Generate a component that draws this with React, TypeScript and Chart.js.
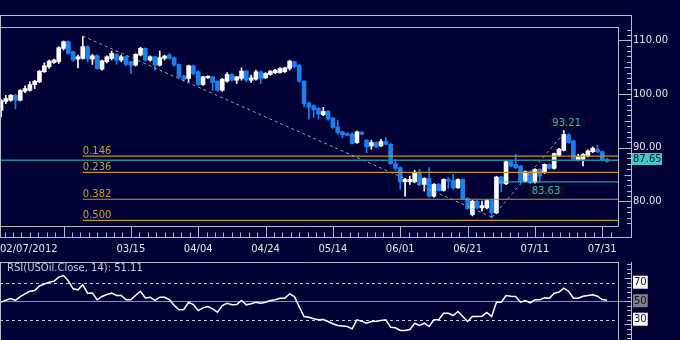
import React, { useEffect, useRef } from "react";
import { Chart, registerables } from "chart.js";

Chart.register(...registerables);

const FONT = '"DejaVu Sans", Verdana, sans-serif';
const BG = "#000034";
const FRAME = "#b8b8c8";
const UP = "#ffffff";
const DOWN = "#1a80f0";

// ---- Daily USOil candles, 02/07/2012 .. 08/01/2012 (index = trading day) ----
const opens = [
  96.96, 98.64, 98.83, 99.77, 98.83, 100.52, 100.7, 101.76, 102.26, 104.14,
  105.07, 105.88, 106.01, 108.5, 109.75, 107.88, 106.51, 106.63, 108.82, 106.51,
  107.13, 104.63, 106.01, 106.63, 107.38, 106.32, 106.94, 106.01, 105.38, 107.26,
  108.5, 106.32, 106.94, 105.38, 106.63, 107.26, 106.76, 105.51, 103.32, 102.89,
  105.26, 104.14, 101.76, 103.01, 103.2, 102.39, 100.7, 102.39, 103.64, 102.57,
  102.89, 104.26, 102.57, 102.76, 104.14, 103.01, 103.64, 103.95, 104.01, 104.14,
  104.76, 106.01, 105.38, 102.39, 98.33, 97.83, 97.33, 96.14, 96.76, 95.52,
  93.89, 92.96, 92.65, 92.52, 90.96, 92.83, 91.4, 90.33, 90.96, 90.33,
  91.15, 90.65, 87.03, 86.28, 83.66, 83.66, 83.66, 85.34, 83.16, 84.28,
  80.97, 83.16, 82.03, 84.09, 83.9, 82.53, 84.09, 80.54, 77.54, 80.04,
  78.79, 78.79, 80.16, 77.85, 84.53, 83.28, 87.4, 86.9, 86.59, 83.78,
  85.53, 83.59, 85.97, 85.34, 86.9, 86.15, 88.59, 89.52, 92.4, 91.27,
  87.65, 87.84, 88.46, 89.27, 89.71, 89.27, 87.84,
];
const highs = [
  99.0, 99.77, 99.9, 99.9, 100.8, 101.51, 102.26, 102.57, 104.4, 105.82,
  106.32, 106.5, 108.82, 109.88, 109.9, 108.0, 107.26, 110.69, 109.0, 107.38,
  107.3, 106.32, 107.1, 108.0, 107.5, 107.26, 107.1, 106.1, 107.5, 108.7,
  108.6, 107.1, 107.0, 108.0, 107.26, 107.57, 106.9, 105.6, 103.51, 105.4,
  105.4, 104.3, 103.3, 103.4, 103.3, 102.5, 102.9, 104.01, 103.8, 103.3,
  104.88, 104.4, 103.51, 104.45, 104.3, 104.0, 104.4, 104.6, 104.9, 105.0,
  106.32, 106.1, 105.5, 102.5, 98.5, 98.0, 97.5, 97.51, 96.9, 95.6,
  95.14, 93.1, 92.8, 92.83, 93.1, 93.0, 91.5, 91.4, 91.1, 91.58,
  91.9, 90.8, 87.84, 86.4, 84.28, 84.72, 85.78, 85.97, 84.4, 86.28,
  83.3, 83.3, 84.2, 84.4, 85.03, 84.2, 84.2, 80.7, 80.2, 80.2,
  80.04, 80.3, 80.3, 84.7, 84.7, 87.6, 87.65, 88.78, 86.7, 85.7,
  85.7, 86.1, 86.1, 87.0, 87.0, 89.0, 89.9, 93.21, 92.6, 91.4,
  88.78, 88.9, 89.6, 90.15, 90.46, 89.4, 88.0,
];
const lows = [
  95.7, 98.2, 98.64, 97.27, 98.7, 100.27, 100.52, 101.01, 102.1, 104.01,
  104.76, 105.7, 105.7, 108.19, 107.4, 106.1, 104.88, 106.5, 106.01, 105.51,
  104.6, 104.45, 105.8, 106.32, 105.51, 106.01, 105.3, 103.82, 105.2, 107.1,
  106.1, 106.1, 104.45, 105.2, 106.32, 106.51, 105.2, 103.0, 102.39, 102.26,
  103.6, 101.6, 101.6, 102.9, 100.7, 100.5, 100.5, 102.2, 102.4, 101.95,
  102.57, 102.26, 102.14, 102.57, 101.95, 102.9, 103.5, 103.8, 103.9, 104.0,
  104.45, 104.9, 102.2, 97.58, 95.33, 95.64, 95.33, 95.95, 95.1, 93.6,
  92.52, 91.9, 92.2, 90.65, 90.8, 92.4, 89.09, 89.71, 90.0, 90.2,
  90.52, 86.9, 85.78, 82.22, 80.97, 83.16, 83.47, 83.0, 81.91, 80.8,
  80.78, 81.9, 81.9, 82.41, 82.22, 82.4, 80.4, 78.5, 77.3, 78.6,
  78.16, 78.6, 76.92, 77.7, 81.78, 83.1, 86.4, 86.1, 83.47, 83.6,
  83.3, 83.4, 83.78, 85.2, 86.0, 86.0, 88.4, 89.4, 90.8, 87.7,
  87.53, 86.59, 88.3, 89.09, 89.09, 87.5, 87.3,
];
const closes = [
  98.83, 99.14, 99.77, 98.83, 100.7, 101.01, 101.76, 102.39, 104.26, 105.26,
  106.13, 106.32, 108.63, 109.75, 107.57, 106.32, 106.94, 108.82, 106.51, 107.13,
  104.76, 106.2, 106.94, 107.57, 106.32, 106.94, 105.51, 105.38, 107.38, 108.5,
  106.32, 106.94, 105.38, 106.76, 107.07, 106.63, 105.38, 103.2, 102.76, 105.26,
  103.82, 101.76, 103.2, 103.32, 102.14, 100.7, 102.76, 103.64, 102.57, 103.2,
  104.26, 102.57, 103.01, 104.14, 102.89, 103.82, 104.26, 104.45, 104.76, 104.88,
  106.13, 105.07, 102.39, 98.21, 97.51, 97.08, 96.27, 96.76, 95.33, 93.77,
  92.83, 92.4, 92.33, 90.77, 92.96, 92.52, 90.15, 90.96, 90.15, 91.15,
  90.65, 87.03, 86.15, 83.66, 84.09, 84.09, 85.34, 83.16, 84.28, 80.97,
  83.16, 82.03, 84.09, 83.78, 82.53, 84.09, 80.54, 78.66, 80.04, 78.79,
  79.22, 80.16, 77.85, 84.53, 83.28, 87.4, 86.59, 86.28, 83.78, 85.53,
  83.47, 85.97, 84.72, 86.9, 86.15, 88.9, 89.71, 92.52, 90.96, 87.84,
  88.28, 88.78, 89.4, 89.9, 89.27, 87.65, 87.45,
];

// ---- RSI(14) of the closes ----
const rsiValues = [
  49, 51, 53, 51, 55, 58, 60.8, 61.6, 66.5, 68.5,
  70.5, 71.5, 76, 77.8, 72, 63.4, 62.3, 67.7, 58.7, 58.8,
  51.5, 55.1, 57.2, 58.7, 56.2, 56.2, 51.5, 51.5, 56.5, 60.8,
  53.6, 54.3, 50.8, 54.3, 54.3, 51.8, 45.5, 40.7, 41.0, 48.9,
  46.4, 39.9, 42.8, 44.3, 41.8, 38.1, 45.3, 47.8, 46.1, 46.4,
  50.8, 46.1, 47.2, 48.9, 47.8, 48.9, 50.8, 51.5, 53.2, 53.2,
  58, 55, 44, 33.5, 32.7, 31, 29.9, 30.2, 28.1, 25.6,
  23.8, 23.2, 22.6, 20.1, 29.9, 28.4, 26.2, 28.1, 28.4, 29.1,
  29.9, 21.9, 21.2, 18.3, 18.3, 19.4, 26.2, 23.7, 26.2, 22.6,
  29.9, 29.9, 37, 37, 34.5, 38.9, 33.5, 28.1, 33.5, 33.5,
  33.8, 37.8, 33.5, 48.9, 48.9, 56.2, 55.4, 55.1, 48.9, 50.8,
  48.3, 51.5, 51.5, 53.6, 53.2, 58.7, 59.8, 64.1, 60.8, 53.2,
  53.2, 55.4, 56.2, 56.9, 55.4, 51.8, 51.1,
];

// ---- Axis ticks ----
const firstDateLabel = "02/07/2012";
const majorTickIndex = [13, 27, 41, 55, 69, 83, 97, 111, 125];
const majorTickLabels = ["", "03/15", "04/04", "04/24", "05/14", "06/01", "06/21", "07/11", "07/31"];
const priceTicks = [80, 90, 100, 110];
const rsiTicks = [30, 50, 70];
const rsiTitle = "RSI(USOil.Close, 14): 51.11";

// ---- Annotations ----
const fibLevels = [88.45, 85.4, 80.4, 76.45];
const fibLabels = ["0.146", "0.236", "0.382", "0.500"];
const fibStartIndex = 17;
const lastPrice = 87.65;
const swingLow = 83.63;
const swingLowStartIndex = 103.6;
const trendDown = [
  { x: 17, y: 110.8 },
  { x: 102.1, y: 77.05 },
];
const trendUp = [
  { x: 102.1, y: 77.05 },
  { x: 117.3, y: 93.0 },
];
const noteLabels = [
  { x: 117.6, y: 94.64, text: "93.21" },
  { x: 113.3, y: 81.9, text: "83.63" },
];

const X_MIN = -0.21;
const X_MAX = 128.27;

function strokeLine(ctx: CanvasRenderingContext2D, x1: number, y1: number, x2: number, y2: number) {
  ctx.beginPath();
  ctx.moveTo(x1, y1);
  ctx.lineTo(x2, y2);
  ctx.stroke();
}

const mainDecor = {
  id: "mainDecor",
  afterDraw(chart: any) {
    const ctx: CanvasRenderingContext2D = chart.ctx;
    const xs = chart.scales.x;
    const ys = chart.scales.y;
    const { top, right, bottom } = chart.chartArea;
    const axisX = 631.5;
    const outerTop = 15.5;
    const outerBottom = 237.5;
    ctx.save();
    ctx.strokeStyle = FRAME;
    ctx.lineWidth = 1;
    strokeLine(ctx, 0, outerTop, axisX + 0.5, outerTop);
    strokeLine(ctx, axisX, outerTop, axisX, outerBottom);
    strokeLine(ctx, 0, outerBottom, axisX + 0.5, outerBottom);
    strokeLine(ctx, 0.5, outerTop, 0.5, outerBottom);
    strokeLine(ctx, 0, top + 0.5, right + 0.5, top + 0.5);
    strokeLine(ctx, right + 0.5, top, right + 0.5, bottom + 0.5);
    strokeLine(ctx, 0, bottom + 0.5, right + 0.5, bottom + 0.5);

    const minorStep = 1.75;
    const minors: number[] = [];
    for (let k = 1; majorTickIndex[0] - k * minorStep >= 0; k++) minors.push(majorTickIndex[0] - k * minorStep);
    for (const m of majorTickIndex) {
      for (let k = 1; k <= 7; k++) {
        const v = m + k * minorStep;
        if (v < X_MAX) minors.push(v);
      }
    }
    for (const m of majorTickIndex) {
      const px = Math.round(xs.getPixelForValue(m)) + 0.5;
      strokeLine(ctx, px, bottom, px, outerBottom);
    }
    for (const m of minors) {
      const px = Math.round(xs.getPixelForValue(m)) + 0.5;
      strokeLine(ctx, px, outerBottom - 5, px, outerBottom);
    }
    for (let v = Math.ceil(ys.min); v <= Math.floor(ys.max); v++) {
      const py = Math.round(ys.getPixelForValue(v)) + 0.5;
      const len = v % 10 === 0 ? 13 : v % 5 === 0 ? 7 : 4.5;
      strokeLine(ctx, axisX - len, py, axisX, py);
    }

    ctx.font = "10px " + FONT;
    ctx.fillStyle = "#e4e4ee";
    ctx.textAlign = "left";
    ctx.textBaseline = "middle";
    ctx.fillText(firstDateLabel, 0, 249);

    ctx.fillStyle = "#d0a028";
    ctx.textBaseline = "alphabetic";
    const fx = xs.getPixelForValue(fibStartIndex);
    fibLevels.forEach((lv, i) => {
      ctx.fillText(fibLabels[i], fx, ys.getPixelForValue(lv) - 2);
    });

    ctx.textAlign = "center";
    ctx.textBaseline = "middle";
    for (const n of noteLabels) {
      const cx = xs.getPixelForValue(n.x);
      const cy = ys.getPixelForValue(n.y);
      const w = ctx.measureText(n.text).width + 7;
      ctx.fillStyle = "#0c0c26";
      ctx.fillRect(Math.round(cx - w / 2), Math.round(cy - 5), Math.round(w), 10);
      ctx.fillStyle = "#3cb0b0";
      ctx.fillText(n.text, cx, cy + 0.5);
    }

    const py = ys.getPixelForValue(lastPrice) - 1;
    ctx.fillStyle = "#44c8c8";
    ctx.fillRect(632, Math.round(py - 6), 30, 12);
    ctx.fillStyle = "#00202c";
    ctx.textAlign = "left";
    ctx.fillText(lastPrice.toFixed(2), 633, py + 0.5);
    ctx.restore();
  },
};

const rsiDecor = {
  id: "rsiDecor",
  beforeDatasetsDraw(chart: any) {
    const ctx: CanvasRenderingContext2D = chart.ctx;
    const ys = chart.scales.y;
    const { right } = chart.chartArea;
    ctx.save();
    ctx.lineWidth = 1;
    ctx.strokeStyle = "#c8c8d8";
    ctx.setLineDash([3, 3]);
    for (const lv of [rsiTicks[0], rsiTicks[2]]) {
      const py = Math.round(ys.getPixelForValue(lv)) + 0.5;
      strokeLine(ctx, 0, py, right, py);
    }
    ctx.setLineDash([]);
    ctx.strokeStyle = "#8c8c98";
    const p50 = Math.round(ys.getPixelForValue(rsiTicks[1])) + 0.5;
    strokeLine(ctx, 0, p50, 632, p50);
    ctx.restore();
  },
  afterDraw(chart: any) {
    const ctx: CanvasRenderingContext2D = chart.ctx;
    const ys = chart.scales.y;
    const { top, right, bottom } = chart.chartArea;
    const axisX = 631.5;
    ctx.save();
    ctx.strokeStyle = FRAME;
    ctx.lineWidth = 1;
    strokeLine(ctx, 0, top + 0.5, right + 0.5, top + 0.5);
    strokeLine(ctx, right + 0.5, top, right + 0.5, bottom);
    strokeLine(ctx, 0.5, top, 0.5, bottom);
    strokeLine(ctx, axisX, top, axisX, bottom);
    for (let v = 10; v <= 90; v += 5) {
      const py = Math.round(ys.getPixelForValue(v)) + 0.5;
      const len = v % 25 === 0 ? 7 : 4.5;
      strokeLine(ctx, axisX - len, py, axisX, py);
    }
    ctx.font = "10px " + FONT;
    ctx.fillStyle = "#c8c8d4";
    ctx.textAlign = "left";
    ctx.textBaseline = "middle";
    ctx.fillText(rsiTitle, 7, top + 6);
    ctx.restore();
  },
};

export default function App() {
  const mainRef = useRef<HTMLCanvasElement>(null);
  const rsiRef = useRef<HTMLCanvasElement>(null);

  useEffect(() => {
    if (!mainRef.current || !rsiRef.current) return;
    Chart.defaults.font.family = FONT;
    Chart.defaults.font.size = 10;

    const idx = closes.map((_, i) => i);
    const colors = closes.map((c, i) => (c >= opens[i] ? UP : DOWN));

    const hLine = (y: number, x0: number, color: string, width: number) => ({
      type: "line" as const,
      data: [
        { x: x0, y },
        { x: X_MAX, y },
      ],
      borderColor: color,
      borderWidth: width,
      pointRadius: 0,
      order: 0,
    });

    const main = new Chart(mainRef.current, {
      type: "bar",
      data: {
        datasets: [
          ...fibLevels.map((lv) => hLine(lv, fibStartIndex, "#c8961a", 1.2)),
          hLine(lastPrice, X_MIN, "#1f8a9c", 1.5),
          hLine(swingLow, swingLowStartIndex, "#30c0cc", 1),
          {
            type: "line" as const,
            data: trendDown,
            borderColor: "#a0a0b8",
            borderWidth: 1,
            borderDash: [3, 3],
            pointRadius: 0,
            order: 0,
          },
          {
            type: "line" as const,
            data: trendUp,
            borderColor: "#a0a0b8",
            borderWidth: 1,
            borderDash: [3, 3],
            pointRadius: 0,
            order: 0,
          },
          {
            type: "bar" as const,
            data: idx.map((i) => ({ x: i, y: [opens[i], closes[i]] })),
            backgroundColor: colors,
            borderWidth: 0,
            barThickness: 4,
            grouped: false,
            order: 1,
          },
          {
            type: "bar" as const,
            data: idx.map((i) => ({ x: i, y: [lows[i], highs[i]] })),
            backgroundColor: colors,
            borderWidth: 0,
            barThickness: 1,
            grouped: false,
            order: 2,
          },
        ] as any,
      },
      options: {
        responsive: true,
        maintainAspectRatio: false,
        animation: false,
        devicePixelRatio: 1,
        events: [],
        layout: { padding: { top: 27, left: 0, right: 0, bottom: 0 } },
        plugins: {
          legend: { display: false },
          tooltip: { enabled: false },
        },
        scales: {
          x: {
            type: "linear",
            min: X_MIN,
            max: X_MAX,
            offset: false,
            grid: { display: false, drawTicks: false },
            border: { display: false },
            afterBuildTicks: (s: any) => {
              s.ticks = majorTickIndex.map((v) => ({ value: v }));
            },
            afterFit: (s: any) => {
              s.height = 34;
              s.paddingLeft = 0;
              s.paddingRight = 0;
            },
            ticks: {
              autoSkip: false,
              maxRotation: 0,
              minRotation: 0,
              padding: 17,
              color: "#e4e4ee",
              font: { size: 10, family: FONT },
              callback: (v: any) => {
                const k = majorTickIndex.indexOf(Number(v));
                return k >= 0 ? majorTickLabels[k] : "";
              },
            },
          },
          y: {
            type: "linear",
            position: "right",
            min: 75.42,
            max: 112.48,
            grid: { display: false, drawTicks: false },
            border: { display: false },
            afterBuildTicks: (s: any) => {
              s.ticks = priceTicks.map((v) => ({ value: v }));
            },
            afterFit: (s: any) => {
              s.width = 62;
              s.paddingTop = 0;
              s.paddingBottom = 0;
            },
            ticks: {
              padding: 15,
              color: "#e4e4ee",
              font: { size: 10, family: FONT },
              callback: (v: any) => Number(v).toFixed(2),
            },
          },
        },
      } as any,
      plugins: [mainDecor],
    });

    const rsi = new Chart(rsiRef.current, {
      type: "line",
      data: {
        datasets: [
          {
            data: idx.map((i) => ({ x: i, y: rsiValues[i] })),
            borderColor: "#ffffff",
            borderWidth: 1.5,
            pointRadius: 0,
            tension: 0,
          },
        ],
      },
      options: {
        responsive: true,
        maintainAspectRatio: false,
        animation: false,
        devicePixelRatio: 1,
        events: [],
        layout: { padding: { top: 2, left: 0, right: 0, bottom: 0 }, autoPadding: false },
        plugins: {
          legend: { display: false },
          tooltip: { enabled: false },
        },
        scales: {
          x: { type: "linear", min: X_MIN, max: X_MAX, display: false },
          y: {
            type: "linear",
            position: "right",
            min: 8.05,
            max: 92.4,
            grid: { display: false, drawTicks: false },
            border: { display: false },
            afterBuildTicks: (s: any) => {
              s.ticks = rsiTicks.map((v) => ({ value: v }));
            },
            afterFit: (s: any) => {
              s.width = 62;
              s.paddingTop = 0;
              s.paddingBottom = 0;
            },
            ticks: {
              padding: 16,
              color: "#101018",
              font: { size: 10, family: FONT },
              showLabelBackdrop: true,
              backdropColor: (c: any) => (c.tick && c.tick.value === 50 ? "#808080" : "#ffffff"),
              backdropPadding: { top: 1, bottom: 0, left: 1, right: 1 },
              callback: (v: any) => String(v),
            },
          },
        },
      } as any,
      plugins: [rsiDecor],
    });

    return () => {
      main.destroy();
      rsi.destroy();
    };
  }, []);

  return (
    <div
      style={{
        position: "absolute",
        left: 0,
        top: 0,
        width: 680,
        height: 340,
        background: BG,
        overflow: "hidden",
      }}
    >
      <div style={{ position: "absolute", left: 0, top: 0, width: 680, height: 260 }}>
        <canvas ref={mainRef} />
      </div>
      <div style={{ position: "absolute", left: 0, top: 260, width: 680, height: 80 }}>
        <canvas ref={rsiRef} />
      </div>
    </div>
  );
}
